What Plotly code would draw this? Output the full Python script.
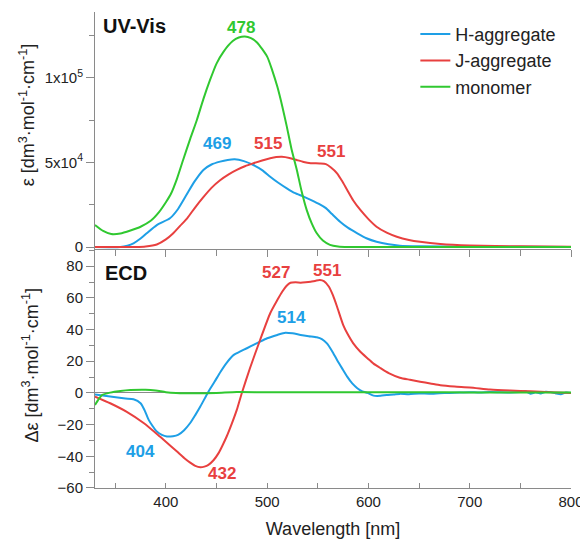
import plotly.graph_objects as go

# ---------------- data ----------------
# UV-Vis (top panel), epsilon in dm3 mol-1 cm-1
uv_h_wl = [330, 355, 362, 368, 375, 381, 391, 404, 412, 420.5, 428, 437, 445, 453.5, 461, 468, 477, 486.4,
           495, 503, 511, 519.4, 527, 536, 544, 552, 558, 564, 572, 580, 589, 598, 608, 620, 631, 650, 700,
           750, 800]
uv_h_eps = [0, 0, 800, 2200, 5000, 8100, 13000, 17000, 22500, 31000, 38500, 45600, 48800, 50500, 51500,
            51900, 50800, 48500, 45500, 41600, 38000, 34700, 32000, 29800, 27600, 25200, 23000, 19500, 15000,
            11300, 8100, 5200, 3100, 1600, 800, 400, 200, 100, 0]

uv_j_wl = [330, 370, 380, 391, 400, 407, 414, 421, 429, 437, 445, 453.5, 462, 470, 478, 486, 495, 503, 509,
           514.5, 522, 529, 536, 543, 552, 558, 563, 569, 574, 579, 585, 592, 600, 608, 618, 628, 640, 651,
           671, 700, 750, 800]
uv_j_eps = [0, 0, 300, 1500, 4500, 8000, 12500, 17000, 23500, 29500, 35000, 39500, 43000, 45600, 47800,
            49500, 51200, 52500, 53200, 53400, 52700, 51500, 50300, 49600, 49400, 49000, 47000, 43600, 39000,
            33700, 27500, 21900, 16500, 12000, 8500, 6100, 4200, 3100, 1800, 900, 400, 200]

uv_m_wl = [330, 338, 346, 355, 365, 375, 385, 393, 400, 405, 411, 417, 424, 430.5, 437, 443.6, 450, 457,
           466, 472, 478, 484, 490, 500, 505, 510, 515, 519.4, 524, 529.3, 534, 539, 544, 549, 555, 562, 570,
           580, 800]
uv_m_eps = [13000, 9500, 7700, 8000, 9800, 12000, 15500, 20500, 26500, 31500, 40500, 51500, 64000, 75000,
            87500, 98800, 108500, 115600, 121800, 123900, 124500, 123500, 121000, 112600, 104500, 94900,
            83000, 71200, 58000, 45600, 33000, 22000, 14000, 8100, 3800, 1300, 300, 0, 0]

# ECD (bottom panel), delta epsilon
ecd_h_wl = [330, 345, 360, 368, 375, 379, 383, 387, 391, 396, 401, 407, 412, 418, 424, 429, 434, 442, 448,
            454, 460, 467, 473, 480, 487, 493, 500, 510, 518, 525, 533, 541, 549, 554, 559, 564, 569, 574,
            579, 584, 589, 594, 599, 605, 612, 618, 625, 631, 640, 650, 660, 670, 680, 690, 700, 710, 720,
            730, 740, 750, 755, 760, 765, 770, 775, 780, 785, 790, 795, 800]
ecd_h_val = [-1, -2.3, -3.5, -4, -6.5, -11, -17, -21, -24.4, -26.5, -27.5, -27.3, -26.5, -23.5, -19, -14,
             -8.6, 0.8, 7, 13.4, 19, 24, 26, 28.2, 30.5, 32.4, 34.5, 36.6, 38, 37.6, 36.6, 35.8, 35.1, 34,
             31.3, 26.5, 20.8, 15.5, 10.3, 6, 3, 1, 0, -1.7, -1.8, -1.3, -1, -0.6, -0.8, -0.3, -0.5, -0.2,
             0, 0.3, 0.5, 0.2, 0.6, 0.4, 0.3, 0.6, 1.0, -0.5, 0.4, -0.4, 0.8, 0.5, -0.3, -0.8, 0.2, 0]

ecd_j_wl = [330, 345, 361, 378, 394, 403, 411, 418, 424, 429, 434, 438, 442, 447, 452, 456, 460, 465, 470,
            475, 483, 493, 503, 510, 515, 519, 523, 528, 533, 538, 543, 548, 552, 556, 561, 565, 569, 575,
            580, 585, 592, 599, 605, 612, 620, 631, 641, 651, 661, 671, 685, 700, 720, 740, 760, 780, 800]
ecd_j_val = [-2.3, -6.5, -11.8, -19, -27.5, -32.5, -37, -41, -44, -46, -46.9, -46.5, -45.4, -42.5, -38,
             -33, -27.5, -19.5, -10.7, 0, 15.6, 33.4, 50.3, 58.6, 64, 67.5, 69.5, 69.8, 69.6, 69.8, 70.2,
             70.8, 71.2, 70.5, 67, 61.5, 54.4, 43, 36.5, 31.3, 26, 21.9, 18.5, 15.6, 12.5, 9.6, 8.3, 7.1,
             6, 4.8, 4, 3.5, 2.2, 1.5, 1, 0.5, 0]

ecd_m_wl = [330, 333, 337, 345, 355, 365, 380, 390, 400, 410, 430, 450, 470, 500, 540, 600, 650, 700, 750, 800]
ecd_m_val = [-7.6, -4.5, -1.3, 0.2, 1.2, 1.8, 2.0, 1.5, 0.5, 0, -0.2, 0, 0.6, 0.4, 0.5, 0.4, 0.4, 0.3, 0.3, 0.2]

series_names = ["H-aggregate", "J-aggregate", "monomer"]
colors = ["#1e9fe6", "#e8403f", "#30c830"]

# peak labels: (text, wavelength, value, colour index)
uv_labels = [("478", 474, 130000, 2), ("469", 450, 61000, 0), ("515", 501, 61000, 1), ("551", 563, 56400, 1)]
ecd_labels = [("527", 509, 76, 1), ("551", 559, 77, 1), ("514", 524, 47.6, 0),
              ("404", 374.5, -37.2, 0), ("432", 455, -51, 1)]

uv_tickvals = [0, 50000, 100000]
uv_ticktext = ["0", "5x10<sup>4</sup>", "1x10<sup>5</sup>"]
uv_minor = [25000, 75000, 125000]

uv_title = "ε [dm<sup>3</sup>·mol<sup>-1</sup>·cm<sup>-1</sup>]"
ecd_title = "Δε [dm<sup>3</sup>·mol<sup>-1</sup>·cm<sup>-1</sup>]"
x_title = "Wavelength [nm]"

# ---------------- figure ----------------
FONT = "Arial, Liberation Sans, sans-serif"
AX = "#8a8a8a"
TXT = "#222222"

fig = go.Figure()
uv = [(uv_h_wl, uv_h_eps), (uv_j_wl, uv_j_eps), (uv_m_wl, uv_m_eps)]
ecd = [(ecd_h_wl, ecd_h_val), (ecd_j_wl, ecd_j_val), (ecd_m_wl, ecd_m_val)]
for i, (wx, wy) in enumerate(uv):
    fig.add_trace(go.Scatter(x=wx, y=wy, mode="lines", name=series_names[i], xaxis="x2", yaxis="y2",
                             line=dict(color=colors[i], width=2, shape="spline", smoothing=0.6)))
for i, (wx, wy) in enumerate(ecd):
    fig.add_trace(go.Scatter(x=wx, y=wy, mode="lines", name=series_names[i], showlegend=False,
                             line=dict(color=colors[i], width=2, shape="spline", smoothing=0.6)))

ann = []
for t, x, y, c in uv_labels:
    ann.append(dict(text="<b>%s</b>" % t, x=x, y=y, xref="x2", yref="y2", showarrow=False,
                    font=dict(size=17, color=colors[c], family=FONT)))
for t, x, y, c in ecd_labels:
    ann.append(dict(text="<b>%s</b>" % t, x=x, y=y, xref="x", yref="y", showarrow=False,
                    font=dict(size=17, color=colors[c], family=FONT)))
ann.append(dict(text="<b>UV-Vis</b>", x=0.013, y=0.970, xref="paper", yref="paper", xanchor="left",
                yanchor="middle", showarrow=False, font=dict(size=20, color="#111", family=FONT)))
ann.append(dict(text="<b>ECD</b>", x=0.017, y=0.451, xref="paper", yref="paper", xanchor="left",
                yanchor="middle", showarrow=False, font=dict(size=20, color="#111", family=FONT)))
# rotated y-axis titles
ann.append(dict(text=uv_title, x=-0.142, y=0.784, xref="paper", yref="paper", xanchor="center",
                yanchor="middle", textangle=-90, showarrow=False, font=dict(size=18, color=TXT, family=FONT)))
ann.append(dict(text=ecd_title, x=-0.136, y=0.258, xref="paper", yref="paper", xanchor="center",
                yanchor="middle", textangle=-90, showarrow=False, font=dict(size=18, color=TXT, family=FONT)))

split = 0.502
common_x = dict(range=[330, 800], showgrid=False, zeroline=False, showline=True, linecolor=AX,
                linewidth=1, dtick=100, tick0=0, tickcolor=AX, automargin=False,
                minor=dict(dtick=50, tick0=0, ticklen=6, tickcolor=AX, ticks="outside"))

# page body has an 8 px margin, so the figure is 8 px smaller than the window on each axis
fig.update_layout(
    width=580, height=538,
    margin=dict(l=87, r=17, t=4, b=58),
    paper_bgcolor="white", plot_bgcolor="white",
    font=dict(family=FONT, size=15, color=TXT),
    showlegend=True,
    legend=dict(x=0.673, y=0.992, xanchor="left", yanchor="top", font=dict(size=18, color=TXT),
                bgcolor="rgba(0,0,0,0)", tracegroupgap=0),
    xaxis=dict(common_x, anchor="y", domain=[0, 1], ticks="inside", ticklen=5,
               minor=dict(dtick=50, tick0=0, ticklen=5, tickcolor=AX, ticks="inside"),
               tickfont=dict(size=15, color=TXT),
               title=dict(text=x_title, font=dict(size=18, color=TXT), standoff=13)),
    xaxis2=dict(common_x, anchor="y2", matches="x", ticks="outside", ticklen=7, showticklabels=False),
    yaxis=dict(domain=[0, split], anchor="x", range=[-60, 90.8], showgrid=False, zeroline=True,
               zerolinecolor=AX, zerolinewidth=1, showline=True, linecolor=AX, linewidth=1,
               dtick=20, tick0=0, ticks="outside", ticklen=8, tickcolor=AX, automargin=False,
               minor=dict(dtick=10, tick0=0, ticklen=5, tickcolor=AX, ticks="outside"),
               tickfont=dict(size=15, color=TXT)),
    yaxis2=dict(domain=[split, 1], anchor="x2", range=[-1200, 139000], showgrid=False, zeroline=False,
                showline=True, linecolor=AX, linewidth=1, tickmode="array", tickvals=uv_tickvals,
                ticktext=uv_ticktext, ticks="outside", ticklen=8, tickcolor=AX, automargin=False,
                minor=dict(tickmode="array", tickvals=uv_minor, ticklen=5, tickcolor=AX, ticks="outside"),
                tickfont=dict(size=15, color=TXT)),
    annotations=ann,
)

fig.write_html("out.html")
